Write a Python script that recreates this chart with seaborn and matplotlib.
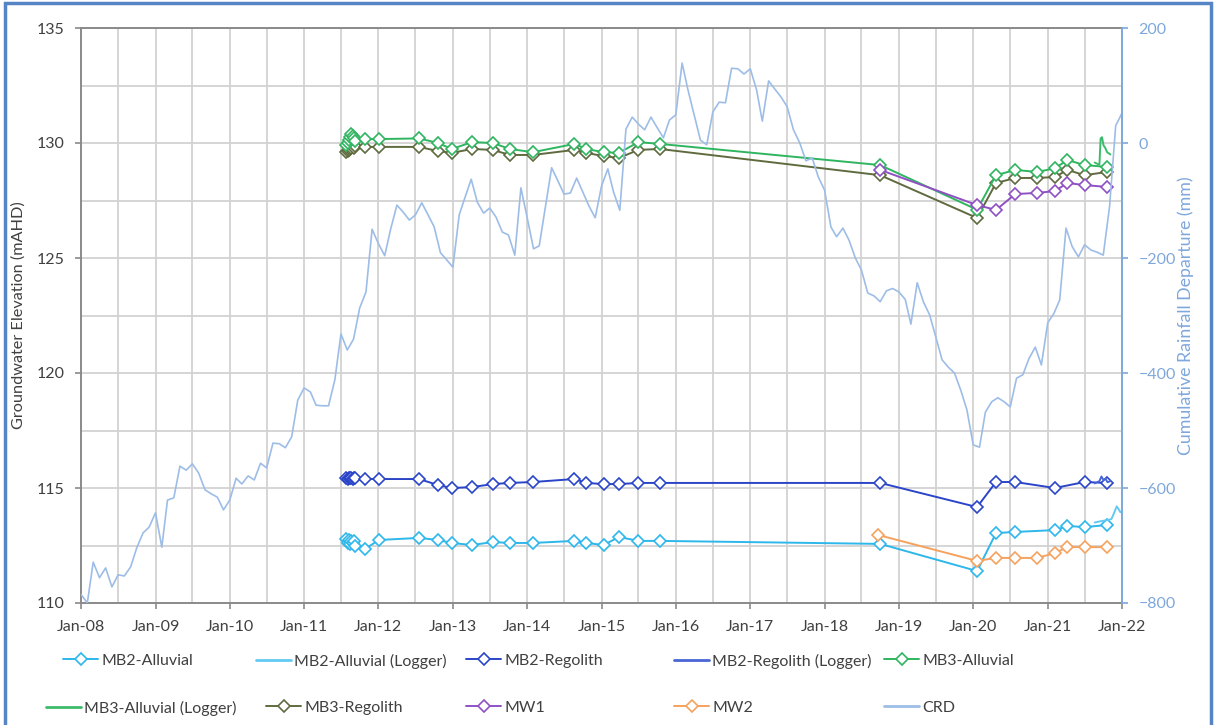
import numpy as np
import pandas as pd
import matplotlib
matplotlib.use("Agg")
import matplotlib.pyplot as plt
import matplotlib.dates as mdates
from matplotlib.lines import Line2D
from matplotlib.patches import Rectangle
from matplotlib.ticker import MultipleLocator
import seaborn as sns

# ---------------------------------------------------------------- data
# Cumulative rainfall departure (mm), monthly from Jan 2008 to Jan 2022
crd_start = "2008-01-01"
crd_mm = [
    -785, -800, -729, -756, -739, -772, -751, -753, -737, -704, -678, -668,
    -643, -703, -621, -617, -562, -569, -558, -574, -603, -610, -616, -638,
    -621, -583, -593, -579, -586, -557, -565, -522, -523, -530, -511, -447,
    -426, -433, -456, -457, -457, -412, -332, -360, -341, -287, -259, -150,
    -175, -196, -150, -108, -120, -134, -125, -104, -125, -146, -191, -203,
    -216, -125, -95, -63, -103, -122, -113, -129, -155, -160, -195, -78,
    -130, -184, -179, -110, -43, -66, -89, -87, -61, -85, -110, -130,
    -75, -45, -85, -117, 24, 45, 33, 23, 45, 27, 9, 40,
    49, 139, 92, 48, 5, -3, 54, 71, 70, 130, 129, 120,
    129, 92, 38, 108, 94, 80, 63, 23, 0, -31, -26, -59,
    -82, -146, -163, -148, -169, -200, -221, -261, -266, -276, -257, -253,
    -259, -272, -315, -243, -276, -299, -337, -377, -390, -400, -430, -464,
    -525, -529, -468, -450, -443, -450, -459, -409, -403, -375, -355, -386,
    -313, -296, -273, -148, -180, -198, -177, -186, -190, -195, -110, 30,
    52,
]

# Monitoring rounds 2011-2020 (the first eight are the closely spaced
# baseline readings of mid 2011)
round_dates = [
    "2011-07-28", "2011-08-03", "2011-08-09", "2011-08-15", "2011-08-21",
    "2011-08-27", "2011-09-02", "2011-09-08", "2011-10-27", "2012-01-04",
    "2012-07-19", "2012-10-19", "2012-12-27", "2013-04-05", "2013-07-16",
    "2013-10-08", "2014-01-29", "2014-08-21", "2014-10-19", "2015-01-11",
    "2015-03-28", "2015-07-01", "2015-10-15", "2018-10-01", "2020-01-20",
]
late_dates_mb3 = ["2020-04-22", "2020-07-26", "2020-11-10", "2021-02-05",
                  "2021-04-08", "2021-07-01", "2021-10-19"]
late_dates_mb2_regolith = ["2020-04-22", "2020-07-26", "2021-02-05",
                           "2021-07-01", "2021-10-19"]
late_dates_mb2_alluvial = ["2020-04-22", "2020-07-26", "2021-02-05",
                           "2021-04-08", "2021-07-01", "2021-10-19"]

mb2_alluvial = [
    112.80, 112.60, 112.75, 112.55, 112.70, 112.60, 112.70, 112.50,
    112.35, 112.74, 112.83, 112.74, 112.61, 112.52, 112.65, 112.61,
    112.61, 112.70, 112.61, 112.52, 112.87, 112.70, 112.70, 112.57, 111.39,
    113.04, 113.09, 113.17, 113.35, 113.30, 113.39,
]
mb2_regolith = [
    115.45, 115.40, 115.45, 115.42, 115.45, 115.40, 115.44, 115.42,
    115.39, 115.39, 115.39, 115.13, 115.00, 115.04, 115.17, 115.22,
    115.26, 115.39, 115.22, 115.17, 115.17, 115.22, 115.22, 115.22, 114.17,
    115.26, 115.26, 115.00, 115.26, 115.22,
]
mb3_alluvial = [
    129.90, 130.00, 130.15, 130.25, 130.40, 130.30, 130.20, 130.10,
    130.17, 130.17, 130.20, 130.00, 129.74, 130.04, 130.00, 129.74,
    129.60, 129.96, 129.74, 129.60, 129.57, 130.04, 129.96, 129.04, 127.10,
    128.60, 128.83, 128.74, 128.90, 129.26, 129.04, 128.96,
]
mb3_regolith = [
    129.60, 129.65, 129.70, 129.75, 129.80, 129.85, 129.80, 129.85,
    129.83, 129.83, 129.83, 129.65, 129.57, 129.74, 129.70, 129.48,
    129.48, 129.70, 129.57, 129.43, 129.35, 129.70, 129.74, 128.60, 126.74,
    128.26, 128.48, 128.48, 128.52, 128.83, 128.60, 128.74,
]

mw1_dates = ["2018-10-01", "2020-01-20"] + late_dates_mb3
mw1 = [128.83, 127.30, 127.09, 127.78, 127.83, 127.91, 128.26, 128.17, 128.09]

mw2_dates = ["2018-09-20", "2020-01-20", "2020-04-22", "2020-07-26",
             "2020-11-10", "2021-02-05", "2021-04-08", "2021-07-01",
             "2021-10-19"]
mw2 = [112.96, 111.83, 111.96, 111.96, 111.96, 112.17, 112.43, 112.43, 112.43]

# Data logger records (late 2021)
logger_mb2_alluvial_dates = ["2021-08-20", "2021-09-15", "2021-10-20",
                             "2021-11-10", "2021-11-20", "2021-12-06",
                             "2021-12-14", "2021-12-24"]
logger_mb2_alluvial = [113.50, 113.55, 113.60, 113.65, 113.85, 114.20,
                       114.10, 113.95]
logger_mb2_regolith_dates = ["2021-08-20", "2021-09-01", "2021-09-12",
                             "2021-09-22", "2021-10-02", "2021-10-12",
                             "2021-10-22", "2021-11-05"]
logger_mb2_regolith = [115.20, 115.25, 115.30, 115.50, 115.35, 115.40,
                       115.25, 115.30]
logger_mb3_alluvial_dates = ["2021-08-20", "2021-09-01", "2021-09-12",
                             "2021-09-18", "2021-09-25", "2021-10-02",
                             "2021-10-10", "2021-10-20", "2021-11-05"]
logger_mb3_alluvial = [129.15, 129.10, 129.05, 130.20, 130.25, 129.90,
                       129.80, 129.60, 129.50]

# ---------------------------------------------------------------- style
sns.set_theme(style="white")
plt.rcParams["font.family"] = ["Lato", "DejaVu Sans"]

C_MB2A = "#2db7ea"
C_MB2A_LOG = "#62caf2"
C_MB2R = "#2b45c8"
C_MB2R_LOG = "#4a66d6"
C_MB3A = "#2fb55f"
C_MB3A_LOG = "#3dbb6c"
C_MB3R = "#5f6b3f"
C_MW1 = "#9050c4"
C_MW2 = "#f5a25e"
C_CRD = "#9dbde7"
C_TEXT = "#404040"
C_RIGHT = "#7ea7dc"
C_GRID = "#d2d2d2"

MS = 6.3

fig = plt.figure(figsize=(12.15, 7.25), dpi=100)
ax = fig.add_axes([81 / 1215, 1 - 603 / 725, (1122 - 81) / 1215, (603 - 28) / 725])
ax2 = ax.twinx()


def draw(target, dates, values, color, with_markers=True, lw=1.4):
    frame = pd.DataFrame({"date": pd.to_datetime(dates), "value": values})
    kws = {}
    if with_markers:
        kws = dict(marker="D", markersize=MS, markerfacecolor="white",
                   markeredgecolor=color, markeredgewidth=1.2)
    sns.lineplot(data=frame, x="date", y="value", ax=target, color=color,
                 lw=lw, estimator=None, sort=False, legend=False, **kws)


draw(ax, round_dates + late_dates_mb2_alluvial, mb2_alluvial, C_MB2A)
draw(ax, logger_mb2_alluvial_dates, logger_mb2_alluvial, C_MB2A_LOG, False)
draw(ax, round_dates + late_dates_mb2_regolith, mb2_regolith, C_MB2R)
draw(ax, logger_mb2_regolith_dates, logger_mb2_regolith, C_MB2R_LOG, False)
draw(ax, round_dates + late_dates_mb3, mb3_regolith, C_MB3R)
draw(ax, round_dates + late_dates_mb3, mb3_alluvial, C_MB3A)
draw(ax, logger_mb3_alluvial_dates, logger_mb3_alluvial, C_MB3A_LOG, False)
draw(ax, mw1_dates, mw1, C_MW1)
draw(ax, mw2_dates, mw2, C_MW2)

crd_dates = pd.date_range(crd_start, periods=len(crd_mm), freq="MS")
draw(ax2, crd_dates, crd_mm, C_CRD, False, lw=1.2)

# ---------------------------------------------------------------- axes
ax.set_xlim(pd.Timestamp("2008-01-01"), pd.Timestamp("2022-01-01"))
ax.set_ylim(110, 135)
ax2.set_ylim(-800, 200)

ax.xaxis.set_major_locator(mdates.YearLocator())
ax.xaxis.set_minor_locator(mdates.MonthLocator(bymonth=7))
ax.xaxis.set_major_formatter(mdates.DateFormatter("%b-%y"))
ax.yaxis.set_major_locator(MultipleLocator(5))
ax.yaxis.set_minor_locator(MultipleLocator(2.5))
ax2.yaxis.set_major_locator(MultipleLocator(200))

ax.grid(which="both", color=C_GRID, lw=1.3)
ax2.grid(False)
ax.set_axisbelow(True)

ax.set_xlabel("")
ax.set_ylabel("Groundwater Elevation (mAHD)", fontsize=11.7, color=C_TEXT)
ax.yaxis.set_label_coords(-0.053, 0.5)
ax2.set_xlabel("")
ax2.set_ylabel("Cumulative Rainfall Departure (mm)", fontsize=12.8,
               color=C_RIGHT, rotation=90)
ax2.yaxis.set_label_coords(1.053, 0.5)

ax.tick_params(axis="both", which="major", labelsize=11.5, labelcolor=C_TEXT,
               color="#8a8a8a", length=4, width=1.2, direction="out",
               left=True, bottom=True, pad=8)
ax.tick_params(axis="both", which="minor", length=0)
ax2.tick_params(axis="y", which="major", labelsize=11.5, labelcolor=C_RIGHT,
                color=C_RIGHT, length=4, width=1.2, right=True, pad=8)

for side in ("left", "bottom", "top"):
    ax.spines[side].set_color("#8a8a8a")
    ax.spines[side].set_linewidth(1.4)
ax.spines["right"].set_visible(False)
for side in ("left", "bottom", "top"):
    ax2.spines[side].set_visible(False)
ax2.spines["right"].set_color(C_RIGHT)
ax2.spines["right"].set_linewidth(1.4)

# ---------------------------------------------------------------- legend
def marker_handle(color):
    return Line2D([], [], color=color, lw=1.4, marker="D", markersize=MS,
                  markerfacecolor="white", markeredgecolor=color,
                  markeredgewidth=1.2)


def line_handle(color):
    return Line2D([], [], color=color, lw=2.0)


entries = [
    (marker_handle(C_MB2A), "MB2-Alluvial", 97, 661),
    (line_handle(C_MB2A_LOG), "MB2-Alluvial (Logger)", 290, 661),
    (marker_handle(C_MB2R), "MB2-Regolith", 500, 661),
    (line_handle(C_MB2R_LOG), "MB2-Regolith (Logger)", 708, 661),
    (marker_handle(C_MB3A), "MB3-Alluvial", 918, 661),
    (line_handle(C_MB3A_LOG), "MB3-Alluvial (Logger)", 80, 708),
    (marker_handle(C_MB3R), "MB3-Regolith", 300, 708),
    (marker_handle(C_MW1), "MW1", 500, 708),
    (marker_handle(C_MW2), "MW2", 708, 708),
    (line_handle(C_CRD), "CRD", 918, 708),
]
for handle, label, tx, ty in entries:
    leg = fig.legend([handle], [label], loc="center left",
                     bbox_to_anchor=((tx - 34) / 1215, 1 - ty / 725),
                     frameon=False, fontsize=11.5, handlelength=2.2,
                     handletextpad=0.2, borderpad=0, borderaxespad=0)
    for t in leg.get_texts():
        t.set_color(C_TEXT)

# outer frame
fig.patches.append(Rectangle((5 / 1215, -0.05), (1211 - 5) / 1215,
                             1.05 - 3 / 725, transform=fig.transFigure,
                             fill=False, edgecolor="#5585c4", lw=2.5))

fig.savefig("out.png", dpi=100)
